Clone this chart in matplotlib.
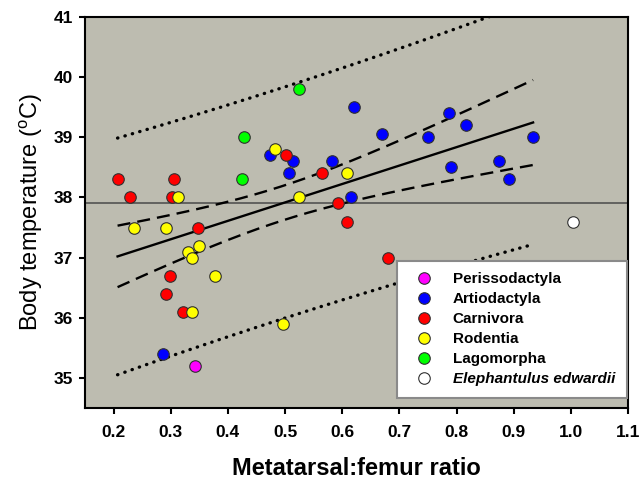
import numpy as np
import matplotlib.pyplot as plt

plt.rcParams['font.family'] = ['Liberation Sans', 'DejaVu Sans']
plt.rcParams['mathtext.fontset'] = 'custom'
plt.rcParams['mathtext.rm'] = 'Liberation Sans'

# metatarsal:femur ratio (x) and body temperature in deg C (y), per order
perisso_x = [0.342]
perisso_y = [35.2]

artio_x = [0.621, 0.670, 0.474, 0.514, 0.507, 0.582, 0.615, 0.786,
           0.817, 0.750, 0.934, 0.791, 0.874, 0.891, 0.287]
artio_y = [39.5, 39.05, 38.7, 38.6, 38.4, 38.6, 38.0, 39.4,
           39.2, 39.0, 39.0, 38.5, 38.6, 38.3, 35.4]

carni_x = [0.502, 0.565, 0.305, 0.302, 0.593, 0.609, 0.347, 0.207,
           0.229, 0.298, 0.291, 0.322, 0.680]
carni_y = [38.7, 38.4, 38.3, 38.0, 37.9, 37.6, 37.5, 38.3,
           38.0, 36.7, 36.4, 36.1, 37.0]

roden_x = [0.482, 0.608, 0.312, 0.525, 0.291, 0.236, 0.331, 0.349,
           0.337, 0.378, 0.337, 0.497]
roden_y = [38.8, 38.4, 38.0, 38.0, 37.5, 37.5, 37.1, 37.2,
           37.0, 36.7, 36.1, 35.9]

lago_x = [0.524, 0.429, 0.425]
lago_y = [39.8, 39.0, 38.3]

eleph_x = [1.003]
eleph_y = [37.6]

x_ticks = [0.2, 0.3, 0.4, 0.5, 0.6, 0.7, 0.8, 0.9, 1.0, 1.1]
x_tick_labels = ['0.2', '0.3', '0.4', '0.5', '0.6', '0.7', '0.8', '0.9', '1.0', '1.1']
y_ticks = [35, 36, 37, 38, 39, 40, 41]

groups = [
    (perisso_x, perisso_y, '#ff00ff', 'Perissodactyla'),
    (artio_x, artio_y, '#0000ff', 'Artiodactyla'),
    (carni_x, carni_y, '#ff0000', 'Carnivora'),
    (roden_x, roden_y, '#ffff00', 'Rodentia'),
    (lago_x, lago_y, '#00ff00', 'Lagomorpha'),
    (eleph_x, eleph_y, '#ffffff', 'Elephantulus edwardii'),
]

# regression on all mammals except Elephantulus, with 95% confidence/prediction bands
fx = np.array(perisso_x + artio_x + carni_x + roden_x + lago_x)
fy = np.array(perisso_y + artio_y + carni_y + roden_y + lago_y)
n = len(fx)
slope, intercept = np.polyfit(fx, fy, 1)
resid = fy - (intercept + slope * fx)
s = np.sqrt(np.sum(resid ** 2) / (n - 2))
sxx = np.sum((fx - fx.mean()) ** 2)
t_crit = 2.018  # t(0.975, df=42)

xs = np.linspace(fx.min(), fx.max(), 200)
yhat = intercept + slope * xs
ci = t_crit * s * np.sqrt(1 / n + (xs - fx.mean()) ** 2 / sxx)
pi = t_crit * s * np.sqrt(1 + 1 / n + (xs - fx.mean()) ** 2 / sxx)

fig = plt.figure(figsize=(6.4, 4.86), dpi=100)
ax = fig.add_axes([0.1328, 0.1605, 0.8484, 0.8045])
ax.set_facecolor('#bdbcb0')

ax.axhline(fy.mean(), color='#4a4a4a', lw=1.1, zorder=1)
ax.plot(xs, yhat, color='black', lw=1.7, zorder=2)
for sign in (1, -1):
    ax.plot(xs, yhat + sign * ci, color='black', lw=1.7,
            ls=(0, (5.5, 3)), zorder=2)
    ax.plot(xs, yhat + sign * pi, color='black', lw=2.4,
            ls=(0, (0.1, 2.2)), dash_capstyle='round', zorder=2)

for gx, gy, col, lab in groups:
    ax.plot(gx, gy, 'o', ms=8.3, mfc=col, mec='#303030', mew=0.8,
            label=lab, zorder=3)

ax.set_xlim(0.15, 1.1)
ax.set_ylim(34.5, 41)
ax.set_xticks(x_ticks, x_tick_labels, fontweight='bold', fontsize=12.5)
ax.set_yticks(y_ticks, [str(v) for v in y_ticks], fontweight='bold', fontsize=12.5)
ax.tick_params(axis='x', direction='out', length=4.5, width=1.5, pad=8)
ax.tick_params(axis='y', direction='out', length=4.5, width=1.5, pad=4)
for sp in ax.spines.values():
    sp.set_linewidth(1.5)

ax.set_xlabel('Metatarsal:femur ratio', fontsize=17, fontweight='bold', labelpad=12)
ax.set_ylabel('Body temperature ($^{\\mathrm{o}}$C)', fontsize=17, labelpad=6)

leg = ax.legend(loc='upper left', bbox_to_anchor=(0.5746, 0.376),
                prop={'weight': 'bold', 'size': 11}, frameon=True, fancybox=False,
                edgecolor='#8a8a8a', framealpha=1, borderpad=0.75,
                labelspacing=0.39, handlelength=2.1, handletextpad=0.8,
                borderaxespad=0)
leg.get_frame().set_linewidth(1.5)
leg.get_texts()[-1].set_style('italic')

fig.savefig('out.png', dpi=100)
